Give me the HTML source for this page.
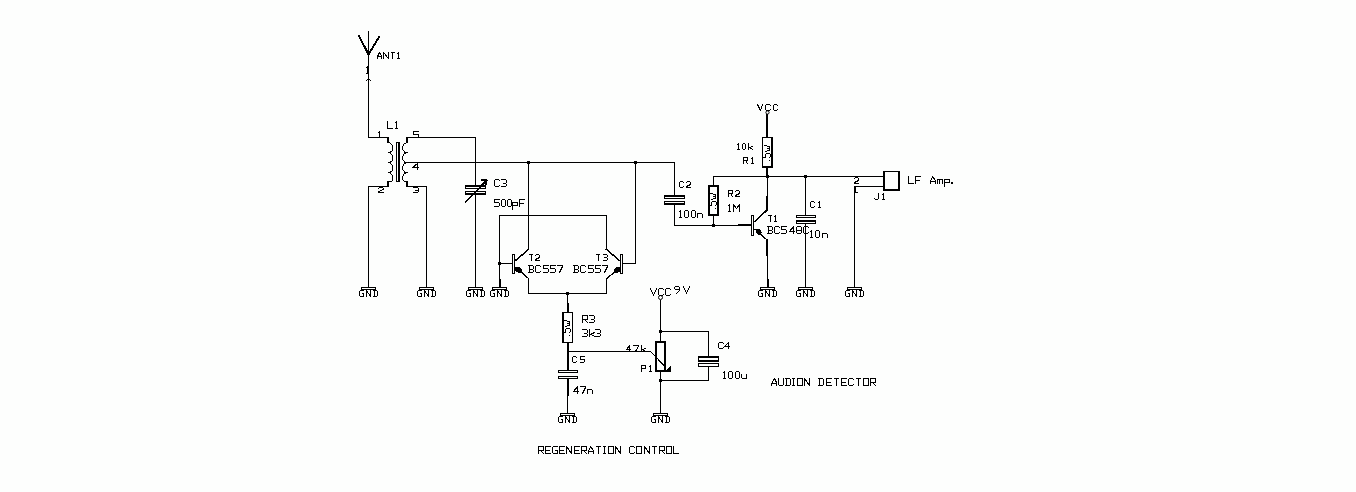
<!DOCTYPE html>
<html><head><meta charset="utf-8"><title>Audion detector schematic</title>
<style>html,body{margin:0;padding:0;background:#fdfefd;overflow:hidden;}svg{display:block;}</style>
</head><body>
<svg width="1356" height="492" viewBox="0 0 1356 492">
<g fill="#000" shape-rendering="crispEdges"><rect x="368" y="31" width="1" height="107"/><rect x="366" y="80" width="1" height="1"/><rect x="367" y="79" width="1" height="1"/><rect x="369" y="79" width="1" height="1"/><rect x="370" y="80" width="1" height="1"/><rect x="368" y="137" width="20" height="1"/><rect x="387" y="137" width="2" height="6"/><rect x="406" y="137" width="70" height="1"/><rect x="406" y="137" width="2" height="6"/><rect x="368" y="186" width="21" height="1"/><rect x="387" y="181" width="2" height="6"/><rect x="406" y="186" width="21" height="1"/><rect x="406" y="181" width="2" height="6"/><rect x="389" y="142" width="1" height="1"/><rect x="390" y="143" width="1" height="1"/><rect x="391" y="144" width="1" height="1"/><rect x="392" y="145" width="1" height="6"/><rect x="390" y="151" width="2" height="1"/><rect x="388" y="152" width="3" height="1"/><rect x="404" y="143" width="2" height="1"/><rect x="403" y="144" width="1" height="2"/><rect x="402" y="146" width="1" height="4"/><rect x="403" y="150" width="1" height="1"/><rect x="404" y="151" width="1" height="1"/><rect x="404" y="152" width="4" height="1"/><rect x="389" y="152" width="1" height="1"/><rect x="390" y="153" width="1" height="1"/><rect x="391" y="154" width="1" height="1"/><rect x="392" y="155" width="1" height="6"/><rect x="390" y="161" width="2" height="1"/><rect x="388" y="162" width="3" height="1"/><rect x="404" y="153" width="2" height="1"/><rect x="403" y="154" width="1" height="2"/><rect x="402" y="156" width="1" height="4"/><rect x="403" y="160" width="1" height="1"/><rect x="404" y="161" width="1" height="1"/><rect x="404" y="162" width="4" height="1"/><rect x="389" y="162" width="1" height="1"/><rect x="390" y="163" width="1" height="1"/><rect x="391" y="164" width="1" height="1"/><rect x="392" y="165" width="1" height="6"/><rect x="390" y="171" width="2" height="1"/><rect x="388" y="172" width="3" height="1"/><rect x="404" y="163" width="2" height="1"/><rect x="403" y="164" width="1" height="2"/><rect x="402" y="166" width="1" height="4"/><rect x="403" y="170" width="1" height="1"/><rect x="404" y="171" width="1" height="1"/><rect x="404" y="172" width="4" height="1"/><rect x="389" y="172" width="1" height="1"/><rect x="390" y="173" width="1" height="1"/><rect x="391" y="174" width="1" height="1"/><rect x="392" y="175" width="1" height="6"/><rect x="390" y="181" width="2" height="1"/><rect x="388" y="181" width="3" height="1"/><rect x="404" y="173" width="2" height="1"/><rect x="403" y="174" width="1" height="2"/><rect x="402" y="176" width="1" height="4"/><rect x="403" y="180" width="1" height="1"/><rect x="404" y="181" width="1" height="1"/><rect x="404" y="181" width="4" height="1"/><rect x="396" y="142" width="4" height="1"/><rect x="396" y="181" width="4" height="1"/><rect x="396" y="142" width="1" height="40"/><rect x="398" y="142" width="2" height="40"/><rect x="406" y="162" width="269" height="1"/><rect x="368" y="186" width="1" height="102"/><rect x="361" y="287" width="15" height="1"/><rect x="361" y="289" width="15" height="1"/><rect x="361" y="287" width="1" height="3"/><rect x="375" y="287" width="1" height="3"/><rect x="426" y="186" width="1" height="102"/><rect x="419" y="287" width="15" height="1"/><rect x="419" y="289" width="15" height="1"/><rect x="419" y="287" width="1" height="3"/><rect x="433" y="287" width="1" height="3"/><rect x="475" y="137" width="1" height="49"/><rect x="465" y="185" width="21" height="2"/><rect x="465" y="188" width="21" height="1"/><rect x="465" y="185" width="1" height="4"/><rect x="485" y="185" width="1" height="4"/><rect x="465" y="191" width="21" height="1"/><rect x="465" y="193" width="21" height="2"/><rect x="465" y="191" width="1" height="4"/><rect x="485" y="191" width="1" height="4"/><rect x="475" y="194" width="1" height="94"/><rect x="468" y="287" width="15" height="1"/><rect x="468" y="289" width="15" height="1"/><rect x="468" y="287" width="1" height="3"/><rect x="482" y="287" width="1" height="3"/><rect x="481" y="179" width="6" height="2"/><rect x="485" y="179" width="2" height="6"/><rect x="527" y="161" width="3" height="3"/><rect x="634" y="161" width="3" height="3"/><rect x="499" y="215" width="108" height="1"/><rect x="498" y="262" width="3" height="3"/><rect x="499" y="215" width="1" height="73"/><rect x="499" y="279" width="2" height="9"/><rect x="492" y="287" width="15" height="1"/><rect x="492" y="289" width="15" height="1"/><rect x="492" y="287" width="1" height="3"/><rect x="506" y="287" width="1" height="3"/><rect x="499" y="263" width="14" height="1"/><rect x="512" y="254" width="3" height="1"/><rect x="512" y="273" width="3" height="1"/><rect x="512" y="254" width="1" height="20"/><rect x="514" y="254" width="1" height="20"/><rect x="528" y="162" width="1" height="88"/><rect x="528" y="278" width="1" height="16"/><rect x="528" y="293" width="79" height="1"/><rect x="566" y="292" width="3" height="3"/><rect x="606" y="215" width="1" height="35"/><rect x="620" y="254" width="3" height="1"/><rect x="620" y="273" width="3" height="1"/><rect x="620" y="254" width="1" height="20"/><rect x="622" y="254" width="1" height="20"/><rect x="606" y="278" width="1" height="16"/><rect x="635" y="162" width="1" height="102"/><rect x="622" y="263" width="14" height="1"/><rect x="567" y="293" width="1" height="11"/><rect x="567" y="303" width="2" height="10"/><rect x="562" y="312" width="11" height="1"/><rect x="562" y="342" width="11" height="1"/><rect x="562" y="312" width="2" height="31"/><rect x="572" y="312" width="1" height="31"/><rect x="564" y="320" width="3" height="1"/><rect x="567" y="321" width="2" height="1"/><rect x="569" y="321" width="1" height="5"/><rect x="567" y="323" width="3" height="1"/><rect x="567" y="325" width="2" height="1"/><rect x="565" y="326" width="2" height="1"/><rect x="566" y="328" width="4" height="1"/><rect x="565" y="329" width="1" height="4"/><rect x="563" y="332" width="3" height="1"/><rect x="570" y="329" width="1" height="3"/><rect x="569" y="332" width="1" height="1"/><rect x="569" y="335" width="1" height="1"/><rect x="567" y="342" width="2" height="29"/><rect x="567" y="351" width="84" height="1"/><rect x="558" y="370" width="20" height="1"/><rect x="558" y="372" width="20" height="1"/><rect x="558" y="370" width="1" height="3"/><rect x="577" y="370" width="1" height="3"/><rect x="558" y="376" width="20" height="1"/><rect x="558" y="378" width="20" height="1"/><rect x="558" y="376" width="1" height="3"/><rect x="577" y="376" width="1" height="3"/><rect x="567" y="378" width="1" height="36"/><rect x="560" y="413" width="15" height="1"/><rect x="560" y="415" width="15" height="1"/><rect x="560" y="413" width="1" height="3"/><rect x="574" y="413" width="1" height="3"/><rect x="567" y="378" width="2" height="18"/><rect x="660" y="300" width="1" height="42"/><rect x="659" y="330" width="3" height="3"/><rect x="660" y="331" width="49" height="1"/><rect x="708" y="331" width="1" height="26"/><rect x="655" y="341" width="11" height="2"/><rect x="655" y="370" width="11" height="2"/><rect x="655" y="341" width="2" height="31"/><rect x="664" y="341" width="2" height="31"/><rect x="660" y="371" width="1" height="43"/><rect x="659" y="379" width="3" height="3"/><rect x="660" y="380" width="49" height="1"/><rect x="708" y="366" width="1" height="15"/><rect x="660" y="380" width="1" height="34"/><rect x="653" y="413" width="15" height="1"/><rect x="653" y="415" width="15" height="1"/><rect x="653" y="413" width="1" height="3"/><rect x="667" y="413" width="1" height="3"/><rect x="698" y="356" width="21" height="2"/><rect x="698" y="360" width="21" height="2"/><rect x="698" y="356" width="1" height="6"/><rect x="718" y="356" width="1" height="6"/><rect x="698" y="363" width="21" height="1"/><rect x="698" y="366" width="21" height="1"/><rect x="698" y="363" width="1" height="4"/><rect x="718" y="363" width="1" height="4"/><rect x="674" y="162" width="1" height="34"/><rect x="664" y="195" width="21" height="2"/><rect x="664" y="198" width="21" height="1"/><rect x="664" y="195" width="1" height="4"/><rect x="684" y="195" width="1" height="4"/><rect x="664" y="201" width="21" height="1"/><rect x="664" y="203" width="21" height="2"/><rect x="664" y="201" width="1" height="4"/><rect x="684" y="201" width="1" height="4"/><rect x="674" y="204" width="1" height="22"/><rect x="674" y="225" width="78" height="1"/><rect x="738" y="224" width="14" height="1"/><rect x="712" y="224" width="3" height="3"/><rect x="713" y="176" width="1" height="10"/><rect x="713" y="176" width="171" height="1"/><rect x="708" y="185" width="11" height="2"/><rect x="708" y="214" width="11" height="2"/><rect x="708" y="185" width="2" height="31"/><rect x="717" y="185" width="2" height="31"/><rect x="710" y="193" width="3" height="1"/><rect x="713" y="194" width="2" height="1"/><rect x="715" y="194" width="1" height="5"/><rect x="713" y="196" width="3" height="1"/><rect x="713" y="198" width="2" height="1"/><rect x="711" y="199" width="2" height="1"/><rect x="712" y="201" width="4" height="1"/><rect x="711" y="202" width="1" height="4"/><rect x="709" y="205" width="3" height="1"/><rect x="716" y="202" width="1" height="3"/><rect x="715" y="205" width="1" height="1"/><rect x="715" y="208" width="1" height="1"/><rect x="713" y="215" width="1" height="11"/><rect x="751" y="215" width="3" height="1"/><rect x="751" y="235" width="3" height="1"/><rect x="751" y="215" width="1" height="21"/><rect x="753" y="215" width="1" height="21"/><rect x="767" y="176" width="1" height="21"/><rect x="766" y="196" width="2" height="15"/><rect x="754" y="229" width="4" height="1"/><rect x="766" y="239" width="2" height="17"/><rect x="767" y="239" width="1" height="49"/><rect x="767" y="239" width="1" height="49"/><rect x="767" y="279" width="2" height="9"/><rect x="760" y="287" width="15" height="1"/><rect x="760" y="289" width="15" height="1"/><rect x="760" y="287" width="1" height="3"/><rect x="774" y="287" width="1" height="3"/><rect x="766" y="114" width="2" height="24"/><rect x="762" y="137" width="11" height="1"/><rect x="762" y="166" width="11" height="2"/><rect x="762" y="137" width="1" height="31"/><rect x="771" y="137" width="2" height="31"/><rect x="764" y="145" width="3" height="1"/><rect x="767" y="146" width="2" height="1"/><rect x="769" y="146" width="1" height="5"/><rect x="767" y="148" width="3" height="1"/><rect x="767" y="150" width="2" height="1"/><rect x="765" y="151" width="2" height="1"/><rect x="766" y="153" width="4" height="1"/><rect x="765" y="154" width="1" height="4"/><rect x="763" y="157" width="3" height="1"/><rect x="770" y="154" width="1" height="3"/><rect x="769" y="157" width="1" height="1"/><rect x="769" y="160" width="1" height="1"/><rect x="766" y="167" width="2" height="10"/><rect x="766" y="175" width="3" height="3"/><rect x="804" y="175" width="3" height="3"/><rect x="805" y="176" width="1" height="40"/><rect x="796" y="215" width="20" height="1"/><rect x="796" y="217" width="20" height="1"/><rect x="796" y="215" width="1" height="3"/><rect x="815" y="215" width="1" height="3"/><rect x="796" y="220" width="20" height="2"/><rect x="796" y="223" width="20" height="1"/><rect x="796" y="220" width="1" height="4"/><rect x="815" y="220" width="1" height="4"/><rect x="805" y="223" width="1" height="65"/><rect x="798" y="287" width="15" height="1"/><rect x="798" y="289" width="15" height="1"/><rect x="798" y="287" width="1" height="3"/><rect x="812" y="287" width="1" height="3"/><rect x="854" y="186" width="30" height="1"/><rect x="854" y="186" width="1" height="102"/><rect x="847" y="287" width="15" height="1"/><rect x="847" y="289" width="15" height="1"/><rect x="847" y="287" width="1" height="3"/><rect x="861" y="287" width="1" height="3"/><rect x="883" y="171" width="17" height="1"/><rect x="883" y="189" width="17" height="2"/><rect x="883" y="171" width="2" height="20"/><rect x="898" y="171" width="2" height="20"/></g>
<g fill="none" stroke="#000" stroke-linecap="square" shape-rendering="crispEdges"><path d="M359.00 36.00 L368.50 54.50" stroke-width="2"/><path d="M379.00 37.00 L368.50 54.50" stroke-width="2"/><path d="M366.50 67.50 L367.50 66.50 L367.50 73.50" stroke-width="1"/><path d="M366.50 73.50 L368.50 73.50" stroke-width="1"/><path d="M465.50 202.00 L486.50 180.50" stroke-width="1.6"/><path d="M515.50 260.50 L528.50 249.50" stroke-width="1.5"/><path d="M520.50 271.50 L528.50 278.50" stroke-width="1.3"/><path d="M619.50 260.50 L606.50 249.50" stroke-width="1.5"/><path d="M615.50 271.50 L606.50 278.50" stroke-width="1.3"/><path d="M650.50 351.50 L665.00 366.50" stroke-width="1"/><path d="M766.50 210.50 L755.00 221.50" stroke-width="1.6"/><path d="M759.50 233.50 L766.50 239.50" stroke-width="1.3"/><path d="M855.50 187.50 L855.50 192.50 L857.50 192.50" stroke-width="1"/></g>
<g fill="#000" shape-rendering="crispEdges"><polygon points="515.0,267.0 519.5,267.0 522.0,270.0 522.0,273.0 518.5,273.0 515.0,270.5"/><polygon points="621.0,267.0 616.5,267.0 614.0,270.0 614.0,273.0 617.5,273.0 621.0,270.5"/><polygon points="664.0,372.0 671.0,366.0 671.0,372.0"/><polygon points="756.0,229.0 760.0,229.5 761.5,232.5 760.5,234.5 757.5,234.5 756.0,232.5"/></g>
<g fill="none" stroke="#000" stroke-width="1"><circle cx="660.5" cy="297.5" r="2"/><circle cx="767.5" cy="112.5" r="1.6"/></g>
<g fill="none" stroke="#000" stroke-width="1" stroke-linecap="square" stroke-linejoin="miter" stroke-miterlimit="2" shape-rendering="crispEdges"><path d="M377.50 58.50 L377.50 56.50 L379.50 52.50 L381.50 55.50 L381.50 58.50 M377.50 56.50 L381.50 56.50 M383.50 58.50 L383.50 52.50 L388.50 58.50 L388.50 52.50 M391.50 52.50 L394.50 52.50 M392.50 52.50 L392.50 58.50 M397.50 53.50 L398.50 52.50 L398.50 58.50 M397.50 58.50 L399.50 58.50 M387.50 121.50 L387.50 128.50 L392.50 128.50 M395.50 122.50 L396.50 121.50 L396.50 128.50 M395.50 128.50 L397.50 128.50 M378.50 132.50 L379.50 131.50 L379.50 137.50 M378.50 137.50 L380.50 137.50 M418.50 131.50 L413.50 131.50 L413.50 134.50 L417.50 134.50 L418.50 134.50 L418.50 136.50 L417.50 137.50 L413.50 137.50 M417.50 169.50 L417.50 163.50 L412.50 167.50 L418.50 167.50 M378.50 188.50 L379.50 187.50 L382.50 187.50 L383.50 188.50 L383.50 189.50 L378.50 191.50 L378.50 192.50 L383.50 192.50 M413.50 187.50 L417.50 187.50 L418.50 188.50 L418.50 189.50 L417.50 190.50 L418.50 190.50 L418.50 191.50 L417.50 192.50 L413.50 192.50 M415.50 190.50 L417.50 190.50 M363.50 290.50 L360.50 290.50 L359.50 291.50 L359.50 295.50 L360.50 296.50 L363.50 296.50 L363.50 293.50 L362.50 293.50 M366.50 296.50 L366.50 290.50 L370.50 296.50 L370.50 290.50 M373.50 290.50 L376.50 290.50 L377.50 291.50 L377.50 295.50 L376.50 296.50 L373.50 296.50 M374.50 290.50 L374.50 296.50 M421.50 290.50 L418.50 290.50 L417.50 291.50 L417.50 295.50 L418.50 296.50 L421.50 296.50 L421.50 293.50 L420.50 293.50 M424.50 296.50 L424.50 290.50 L428.50 296.50 L428.50 290.50 M431.50 290.50 L434.50 290.50 L435.50 291.50 L435.50 295.50 L434.50 296.50 L431.50 296.50 M432.50 290.50 L432.50 296.50 M470.50 290.50 L467.50 290.50 L466.50 291.50 L466.50 295.50 L467.50 296.50 L470.50 296.50 L470.50 293.50 L469.50 293.50 M473.50 296.50 L473.50 290.50 L477.50 296.50 L477.50 290.50 M480.50 290.50 L483.50 290.50 L484.50 291.50 L484.50 295.50 L483.50 296.50 L480.50 296.50 M481.50 290.50 L481.50 296.50 M499.50 180.50 L498.50 179.50 L495.50 179.50 L494.50 180.50 L494.50 185.50 L495.50 186.50 L498.50 186.50 L499.50 185.50 M501.50 179.50 L505.50 179.50 L506.50 180.50 L506.50 182.50 L505.50 183.50 L506.50 184.50 L506.50 185.50 L505.50 186.50 L501.50 186.50 M503.50 183.50 L505.50 183.50 M499.50 199.50 L494.50 199.50 L494.50 202.50 L498.50 202.50 L499.50 203.50 L499.50 205.50 L498.50 206.50 L494.50 206.50 M502.50 199.50 L504.50 199.50 L505.50 200.50 L505.50 205.50 L504.50 206.50 L502.50 206.50 L501.50 205.50 L501.50 200.50 L502.50 199.50 M508.50 199.50 L510.50 199.50 L511.50 200.50 L511.50 205.50 L510.50 206.50 L508.50 206.50 L507.50 205.50 L507.50 200.50 L508.50 199.50 M512.50 202.50 L512.50 209.50 M512.50 202.50 L517.50 202.50 L517.50 205.50 L512.50 205.50 M524.50 199.50 L519.50 199.50 L519.50 206.50 M519.50 203.50 L523.50 203.50 M494.50 290.50 L491.50 290.50 L490.50 291.50 L490.50 295.50 L491.50 296.50 L494.50 296.50 L494.50 293.50 L493.50 293.50 M497.50 296.50 L497.50 290.50 L501.50 296.50 L501.50 290.50 M504.50 290.50 L507.50 290.50 L508.50 291.50 L508.50 295.50 L507.50 296.50 L504.50 296.50 M505.50 290.50 L505.50 296.50 M529.50 254.50 L532.50 254.50 M531.50 254.50 L531.50 260.50 M535.50 255.50 L536.50 254.50 L538.50 254.50 L539.50 255.50 L539.50 257.50 L535.50 259.50 L535.50 260.50 L539.50 260.50 M528.50 265.50 L532.50 265.50 L533.50 266.50 L533.50 268.50 L532.50 269.50 L533.50 270.50 L533.50 271.50 L532.50 272.50 L528.50 272.50 M529.50 265.50 L529.50 272.50 M529.50 269.50 L532.50 269.50 M540.50 266.50 L539.50 265.50 L536.50 265.50 L535.50 266.50 L535.50 271.50 L536.50 272.50 L539.50 272.50 L540.50 271.50 M548.50 265.50 L543.50 265.50 L543.50 268.50 L547.50 268.50 L548.50 269.50 L548.50 271.50 L547.50 272.50 L543.50 272.50 M555.50 265.50 L550.50 265.50 L550.50 268.50 L554.50 268.50 L555.50 269.50 L555.50 271.50 L554.50 272.50 L550.50 272.50 M557.50 265.50 L562.50 265.50 L562.50 266.50 L559.50 272.50 M596.50 254.50 L599.50 254.50 M598.50 254.50 L598.50 260.50 M603.50 254.50 L606.50 254.50 L607.50 255.50 L607.50 256.50 L606.50 257.50 L607.50 258.50 L607.50 259.50 L606.50 260.50 L603.50 260.50 M604.50 257.50 L606.50 257.50 M573.50 265.50 L577.50 265.50 L578.50 266.50 L578.50 268.50 L577.50 269.50 L578.50 270.50 L578.50 271.50 L577.50 272.50 L573.50 272.50 M574.50 265.50 L574.50 272.50 M574.50 269.50 L577.50 269.50 M585.50 266.50 L584.50 265.50 L581.50 265.50 L580.50 266.50 L580.50 271.50 L581.50 272.50 L584.50 272.50 L585.50 271.50 M593.50 265.50 L588.50 265.50 L588.50 268.50 L592.50 268.50 L593.50 269.50 L593.50 271.50 L592.50 272.50 L588.50 272.50 M600.50 265.50 L595.50 265.50 L595.50 268.50 L599.50 268.50 L600.50 269.50 L600.50 271.50 L599.50 272.50 L595.50 272.50 M602.50 265.50 L607.50 265.50 L607.50 266.50 L604.50 272.50 M582.50 322.50 L582.50 315.50 L587.50 315.50 L587.50 319.50 L582.50 319.50 M584.50 319.50 L587.50 322.50 M589.50 315.50 L593.50 315.50 L594.50 316.50 L594.50 318.50 L593.50 319.50 L594.50 320.50 L594.50 321.50 L593.50 322.50 L589.50 322.50 M591.50 319.50 L593.50 319.50 M582.50 329.50 L586.50 329.50 L587.50 330.50 L587.50 332.50 L586.50 333.50 L587.50 334.50 L587.50 335.50 L586.50 336.50 L582.50 336.50 M584.50 333.50 L586.50 333.50 M589.50 329.50 L589.50 336.50 M594.50 332.50 L590.50 334.50 M591.50 334.50 L594.50 336.50 M595.50 329.50 L599.50 329.50 L600.50 330.50 L600.50 332.50 L599.50 333.50 L600.50 334.50 L600.50 335.50 L599.50 336.50 L595.50 336.50 M597.50 333.50 L599.50 333.50 M562.50 416.50 L559.50 416.50 L558.50 417.50 L558.50 421.50 L559.50 422.50 L562.50 422.50 L562.50 419.50 L561.50 419.50 M565.50 422.50 L565.50 416.50 L569.50 422.50 L569.50 416.50 M572.50 416.50 L575.50 416.50 L576.50 417.50 L576.50 421.50 L575.50 422.50 L572.50 422.50 M573.50 416.50 L573.50 422.50 M576.50 357.50 L575.50 356.50 L573.50 356.50 L572.50 357.50 L572.50 361.50 L573.50 362.50 L575.50 362.50 L576.50 361.50 M584.50 356.50 L580.50 356.50 L580.50 359.50 L583.50 359.50 L584.50 359.50 L584.50 361.50 L583.50 362.50 L580.50 362.50 M577.50 393.50 L577.50 386.50 L573.50 391.50 L578.50 391.50 M580.50 386.50 L585.50 386.50 L585.50 387.50 L582.50 393.50 M587.50 389.50 L587.50 393.50 M587.50 390.50 L588.50 389.50 L591.50 389.50 L592.50 390.50 L592.50 393.50 M650.50 288.50 L653.50 295.50 L656.50 288.50 M663.50 289.50 L662.50 288.50 L659.50 288.50 L658.50 289.50 L658.50 294.50 L659.50 295.50 L662.50 295.50 L663.50 294.50 M670.50 289.50 L669.50 288.50 L666.50 288.50 L665.50 289.50 L665.50 294.50 L666.50 295.50 L669.50 295.50 L670.50 294.50 M679.50 289.50 L675.50 289.50 L674.50 288.50 L674.50 287.50 L675.50 286.50 L678.50 286.50 L679.50 287.50 L679.50 290.50 L676.50 293.50 M683.50 286.50 L686.50 293.50 L689.50 286.50 M655.50 416.50 L652.50 416.50 L651.50 417.50 L651.50 421.50 L652.50 422.50 L655.50 422.50 L655.50 419.50 L654.50 419.50 M658.50 422.50 L658.50 416.50 L662.50 422.50 L662.50 416.50 M665.50 416.50 L668.50 416.50 L669.50 417.50 L669.50 421.50 L668.50 422.50 L665.50 422.50 M666.50 416.50 L666.50 422.50 M629.50 351.50 L629.50 345.50 L626.50 349.50 L630.50 349.50 M633.50 345.50 L638.50 345.50 L638.50 346.50 L635.50 351.50 M641.50 345.50 L641.50 351.50 M645.50 348.50 L642.50 349.50 M642.50 349.50 L645.50 351.50 M641.50 371.50 L641.50 365.50 L645.50 365.50 L645.50 368.50 L641.50 368.50 M649.50 366.50 L650.50 365.50 L650.50 371.50 M649.50 371.50 L651.50 371.50 M723.50 343.50 L722.50 342.50 L719.50 342.50 L718.50 343.50 L718.50 347.50 L719.50 348.50 L722.50 348.50 L723.50 347.50 M728.50 348.50 L728.50 342.50 L724.50 346.50 L729.50 346.50 M723.50 372.50 L724.50 371.50 L724.50 378.50 M723.50 378.50 L725.50 378.50 M729.50 371.50 L731.50 371.50 L732.50 372.50 L732.50 377.50 L731.50 378.50 L729.50 378.50 L728.50 377.50 L728.50 372.50 L729.50 371.50 M736.50 371.50 L738.50 371.50 L739.50 372.50 L739.50 377.50 L738.50 378.50 L736.50 378.50 L735.50 377.50 L735.50 372.50 L736.50 371.50 M741.50 374.50 L741.50 377.50 L742.50 378.50 L745.50 378.50 L746.50 377.50 M746.50 374.50 L746.50 378.50 M683.50 182.50 L682.50 181.50 L680.50 181.50 L679.50 182.50 L679.50 186.50 L680.50 187.50 L682.50 187.50 L683.50 186.50 M686.50 182.50 L687.50 181.50 L689.50 181.50 L690.50 182.50 L690.50 184.50 L686.50 186.50 L686.50 187.50 L690.50 187.50 M679.50 211.50 L680.50 210.50 L680.50 217.50 M679.50 217.50 L681.50 217.50 M685.50 210.50 L687.50 210.50 L688.50 211.50 L688.50 216.50 L687.50 217.50 L685.50 217.50 L684.50 216.50 L684.50 211.50 L685.50 210.50 M692.50 210.50 L694.50 210.50 L695.50 211.50 L695.50 216.50 L694.50 217.50 L692.50 217.50 L691.50 216.50 L691.50 211.50 L692.50 210.50 M697.50 213.50 L697.50 217.50 M697.50 214.50 L698.50 213.50 L701.50 213.50 L702.50 214.50 L702.50 217.50 M728.50 196.50 L728.50 190.50 L732.50 190.50 L732.50 193.50 L728.50 193.50 M730.50 193.50 L732.50 196.50 M735.50 191.50 L736.50 190.50 L738.50 190.50 L739.50 191.50 L739.50 193.50 L735.50 195.50 L735.50 196.50 L739.50 196.50 M728.50 205.50 L729.50 204.50 L729.50 211.50 M728.50 211.50 L730.50 211.50 M733.50 211.50 L733.50 204.50 L736.50 208.50 L739.50 204.50 L739.50 211.50 M762.50 290.50 L759.50 290.50 L758.50 291.50 L758.50 295.50 L759.50 296.50 L762.50 296.50 L762.50 293.50 L761.50 293.50 M765.50 296.50 L765.50 290.50 L769.50 296.50 L769.50 290.50 M772.50 290.50 L775.50 290.50 L776.50 291.50 L776.50 295.50 L775.50 296.50 L772.50 296.50 M773.50 290.50 L773.50 296.50 M768.50 215.50 L771.50 215.50 M770.50 215.50 L770.50 221.50 M774.50 216.50 L775.50 215.50 L775.50 221.50 M774.50 221.50 L776.50 221.50 M767.50 226.50 L771.50 226.50 L772.50 227.50 L772.50 229.50 L771.50 230.50 L772.50 231.50 L772.50 232.50 L771.50 233.50 L767.50 233.50 M768.50 226.50 L768.50 233.50 M768.50 230.50 L771.50 230.50 M779.50 227.50 L778.50 226.50 L775.50 226.50 L774.50 227.50 L774.50 232.50 L775.50 233.50 L778.50 233.50 L779.50 232.50 M786.50 226.50 L781.50 226.50 L781.50 229.50 L785.50 229.50 L786.50 230.50 L786.50 232.50 L785.50 233.50 L781.50 233.50 M793.50 233.50 L793.50 226.50 L789.50 231.50 L794.50 231.50 M797.50 226.50 L800.50 226.50 L801.50 227.50 L801.50 232.50 L800.50 233.50 L797.50 233.50 L796.50 232.50 L796.50 227.50 L797.50 226.50 M796.50 230.50 L801.50 230.50 M808.50 227.50 L807.50 226.50 L804.50 226.50 L803.50 227.50 L803.50 232.50 L804.50 233.50 L807.50 233.50 L808.50 232.50 M757.50 104.50 L760.50 110.50 L762.50 104.50 M770.50 105.50 L769.50 104.50 L766.50 104.50 L765.50 105.50 L765.50 109.50 L766.50 110.50 L769.50 110.50 L770.50 109.50 M777.50 105.50 L776.50 104.50 L774.50 104.50 L773.50 105.50 L773.50 109.50 L774.50 110.50 L776.50 110.50 L777.50 109.50 M737.50 144.50 L738.50 143.50 L738.50 149.50 M737.50 149.50 L739.50 149.50 M743.50 143.50 L744.50 143.50 L745.50 144.50 L745.50 148.50 L744.50 149.50 L743.50 149.50 L742.50 148.50 L742.50 144.50 L743.50 143.50 M748.50 143.50 L748.50 149.50 M752.50 146.50 L749.50 147.50 M749.50 147.50 L752.50 149.50 M743.50 163.50 L743.50 157.50 L747.50 157.50 L747.50 160.50 L743.50 160.50 M745.50 160.50 L747.50 163.50 M751.50 158.50 L752.50 157.50 L752.50 163.50 M751.50 163.50 L753.50 163.50 M800.50 290.50 L797.50 290.50 L796.50 291.50 L796.50 295.50 L797.50 296.50 L800.50 296.50 L800.50 293.50 L799.50 293.50 M803.50 296.50 L803.50 290.50 L807.50 296.50 L807.50 290.50 M810.50 290.50 L813.50 290.50 L814.50 291.50 L814.50 295.50 L813.50 296.50 L810.50 296.50 M811.50 290.50 L811.50 296.50 M814.50 202.50 L813.50 201.50 L811.50 201.50 L810.50 202.50 L810.50 206.50 L811.50 207.50 L813.50 207.50 L814.50 206.50 M818.50 202.50 L819.50 201.50 L819.50 207.50 M818.50 207.50 L820.50 207.50 M810.50 231.50 L811.50 230.50 L811.50 237.50 M810.50 237.50 L812.50 237.50 M816.50 230.50 L818.50 230.50 L819.50 231.50 L819.50 236.50 L818.50 237.50 L816.50 237.50 L815.50 236.50 L815.50 231.50 L816.50 230.50 M822.50 233.50 L822.50 237.50 M822.50 234.50 L823.50 233.50 L826.50 233.50 L827.50 234.50 L827.50 237.50 M849.50 290.50 L846.50 290.50 L845.50 291.50 L845.50 295.50 L846.50 296.50 L849.50 296.50 L849.50 293.50 L848.50 293.50 M852.50 296.50 L852.50 290.50 L856.50 296.50 L856.50 290.50 M859.50 290.50 L862.50 290.50 L863.50 291.50 L863.50 295.50 L862.50 296.50 L859.50 296.50 M860.50 290.50 L860.50 296.50 M854.50 178.50 L855.50 177.50 L857.50 177.50 L858.50 178.50 L858.50 180.50 L854.50 182.50 L854.50 183.50 L858.50 183.50 M878.50 193.50 L878.50 198.50 L877.50 199.50 L875.50 199.50 L874.50 198.50 M882.50 194.50 L883.50 193.50 L883.50 199.50 M882.50 199.50 L884.50 199.50 M908.50 176.50 L908.50 183.50 L913.50 183.50 M920.50 176.50 L915.50 176.50 L915.50 183.50 M915.50 180.50 L919.50 180.50 M930.50 183.50 L930.50 181.50 L932.50 176.50 L935.50 180.50 L935.50 183.50 M930.50 181.50 L935.50 181.50 M937.50 179.50 L937.50 183.50 M937.50 179.50 L942.50 179.50 L942.50 183.50 M939.50 179.50 L939.50 183.50 M944.50 179.50 L944.50 186.50 M944.50 179.50 L949.50 179.50 L949.50 182.50 L944.50 182.50 M951.50 182.50 L952.50 182.50 L952.50 183.50 L951.50 183.50 L951.50 182.50 M771.50 385.50 L771.50 383.50 L774.50 378.50 L776.50 382.50 L776.50 385.50 M771.50 383.50 L776.50 383.50 M778.50 378.50 L778.50 384.50 L779.50 385.50 L782.50 385.50 L783.50 384.50 L783.50 378.50 M785.50 378.50 L789.50 378.50 L790.50 379.50 L790.50 384.50 L789.50 385.50 L785.50 385.50 M786.50 378.50 L786.50 385.50 M792.50 378.50 L794.50 378.50 M793.50 378.50 L793.50 385.50 M792.50 385.50 L794.50 385.50 M797.50 378.50 L802.50 378.50 L802.50 385.50 L797.50 385.50 L797.50 378.50 M804.50 385.50 L804.50 378.50 L809.50 385.50 L809.50 378.50 M818.50 378.50 L822.50 378.50 L823.50 379.50 L823.50 384.50 L822.50 385.50 L818.50 385.50 M819.50 378.50 L819.50 385.50 M831.50 378.50 L826.50 378.50 L826.50 385.50 L831.50 385.50 M826.50 382.50 L830.50 382.50 M834.50 378.50 L838.50 378.50 M836.50 378.50 L836.50 385.50 M846.50 378.50 L841.50 378.50 L841.50 385.50 L846.50 385.50 M841.50 382.50 L845.50 382.50 M853.50 379.50 L852.50 378.50 L849.50 378.50 L848.50 379.50 L848.50 384.50 L849.50 385.50 L852.50 385.50 L853.50 384.50 M856.50 378.50 L860.50 378.50 M858.50 378.50 L858.50 385.50 M863.50 378.50 L868.50 378.50 L868.50 385.50 L863.50 385.50 L863.50 378.50 M870.50 385.50 L870.50 378.50 L875.50 378.50 L875.50 382.50 L870.50 382.50 M872.50 382.50 L875.50 385.50 M538.50 453.50 L538.50 446.50 L543.50 446.50 L543.50 450.50 L538.50 450.50 M540.50 450.50 L543.50 453.50 M550.50 446.50 L545.50 446.50 L545.50 453.50 L550.50 453.50 M545.50 450.50 L549.50 450.50 M557.50 446.50 L553.50 446.50 L552.50 447.50 L552.50 452.50 L553.50 453.50 L557.50 453.50 L557.50 450.50 L555.50 450.50 M564.50 446.50 L559.50 446.50 L559.50 453.50 L564.50 453.50 M559.50 450.50 L563.50 450.50 M566.50 453.50 L566.50 446.50 L571.50 453.50 L571.50 446.50 M579.50 446.50 L574.50 446.50 L574.50 453.50 L579.50 453.50 M574.50 450.50 L578.50 450.50 M581.50 453.50 L581.50 446.50 L586.50 446.50 L586.50 450.50 L581.50 450.50 M583.50 450.50 L586.50 453.50 M588.50 453.50 L588.50 451.50 L590.50 446.50 L593.50 450.50 L593.50 453.50 M588.50 451.50 L593.50 451.50 M596.50 446.50 L600.50 446.50 M598.50 446.50 L598.50 453.50 M603.50 446.50 L605.50 446.50 M604.50 446.50 L604.50 453.50 M603.50 453.50 L605.50 453.50 M608.50 446.50 L613.50 446.50 L613.50 453.50 L608.50 453.50 L608.50 446.50 M615.50 453.50 L615.50 446.50 L620.50 453.50 L620.50 446.50 M634.50 447.50 L633.50 446.50 L630.50 446.50 L629.50 447.50 L629.50 452.50 L630.50 453.50 L633.50 453.50 L634.50 452.50 M636.50 446.50 L641.50 446.50 L641.50 453.50 L636.50 453.50 L636.50 446.50 M644.50 453.50 L644.50 446.50 L649.50 453.50 L649.50 446.50 M652.50 446.50 L656.50 446.50 M654.50 446.50 L654.50 453.50 M659.50 453.50 L659.50 446.50 L664.50 446.50 L664.50 450.50 L659.50 450.50 M661.50 450.50 L664.50 453.50 M666.50 446.50 L671.50 446.50 L671.50 453.50 L666.50 453.50 L666.50 446.50 M673.50 446.50 L673.50 453.50 L678.50 453.50"/></g>
</svg>
</body></html>
